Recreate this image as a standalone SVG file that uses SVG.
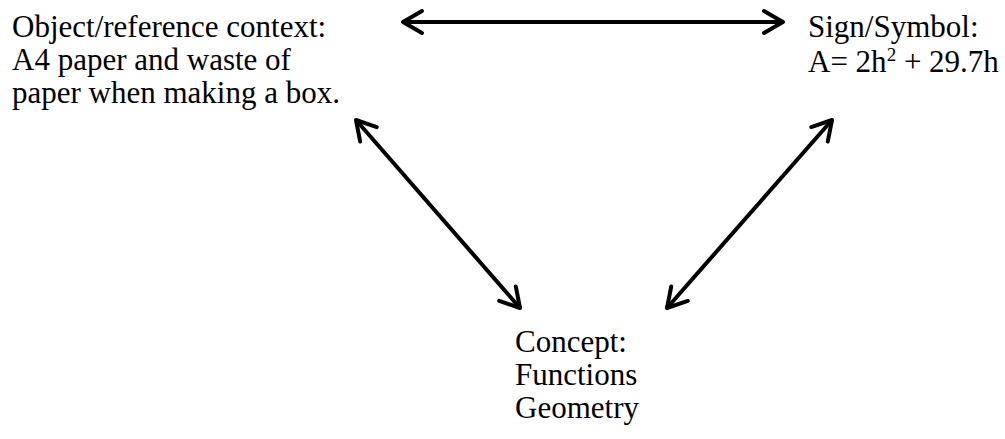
<svg xmlns="http://www.w3.org/2000/svg" width="1005" height="439" viewBox="0 0 1005 439">
  <style>
    .label { font-family: "Liberation Serif", "Times New Roman", serif; font-size: 31px; fill: #000; }
    .link { stroke: #000; stroke-width: 4; fill: none; marker-start: url(#tip); marker-end: url(#tip); }
  </style>
  <defs>
    <!-- open chevron head used at both ends of every connector -->
    <marker id="tip" markerUnits="userSpaceOnUse" viewBox="-25 -15 30 30" markerWidth="30" markerHeight="30" refX="0" refY="0" orient="auto-start-reverse" overflow="visible">
      <path d="M -19 -11 L 0 0 L -19 11" fill="none" stroke="#000" stroke-width="4" stroke-linecap="round" stroke-linejoin="round"/>
    </marker>
  </defs>
  <rect width="1005" height="439" fill="#fff"/>

  <g id="connectors">
    <line class="link" x1="403" y1="22" x2="783" y2="22"/>
    <line class="link" x1="356" y1="120" x2="520" y2="308"/>
    <line class="link" x1="832" y1="120" x2="667" y2="308"/>
  </g>

  <g id="object-context">
    <text class="label" x="12" y="37">Object/reference context:</text>
    <text class="label" x="12" y="70">A4 paper and waste of</text>
    <text class="label" x="12" y="103">paper when making a box.</text>
  </g>

  <g id="sign-symbol">
    <text class="label" x="808" y="37">Sign/Symbol:</text>
    <text class="label" x="808" y="72">A= 2h<tspan font-size="19" dy="-11">2</tspan><tspan dy="11"> + 29.7h</tspan></text>
  </g>

  <g id="concept">
    <text class="label" x="515" y="352">Concept:</text>
    <text class="label" x="515" y="385">Functions</text>
    <text class="label" x="515" y="418">Geometry</text>
  </g>
</svg>
